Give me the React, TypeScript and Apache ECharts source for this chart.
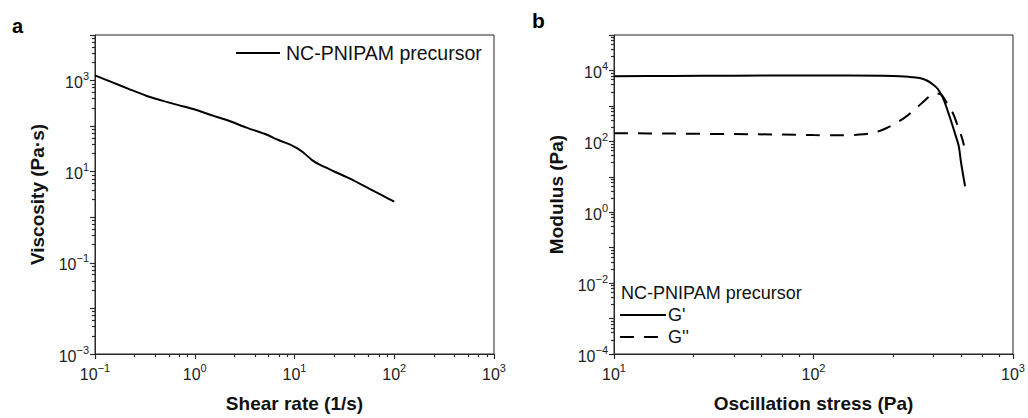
import React, { useEffect, useRef } from "react";
import * as echarts from "echarts";

// Panel a: viscosity vs shear rate
const shearRate = [0.1, 0.15, 0.22, 0.33, 0.5, 0.7, 1, 1.5, 2.2, 3.3, 5, 7, 9.6, 12, 15, 18.5, 25, 33, 45, 56, 75, 100];
const viscosity = [1300, 910, 650, 460, 350, 286, 232, 172, 131, 93, 68, 49, 37, 27.5, 18, 13.7, 10.1, 7.7, 5.5, 4.27, 3.06, 2.2];

// Panel b: moduli vs oscillation stress
const stressG1 = [10, 20, 40, 80, 150, 250, 300, 340, 370, 400, 420, 445, 480, 515, 535, 548, 575];
const gPrime = [6900, 7000, 7100, 7200, 7200, 7000, 6600, 6100, 5200, 3900, 3000, 1700, 520, 150, 72, 27, 5.4];
const stressG2 = [10, 20, 40, 70, 100, 140, 170, 200, 230, 260, 290, 330, 360, 390, 415, 440, 470, 500, 530, 555, 568];
const gDoublePrime = [170, 165, 160, 155, 150, 148, 155, 175, 230, 330, 490, 900, 1400, 2050, 2250, 2000, 1100, 620, 260, 125, 76];

const minorMantissas = [2.5, 4, 5.5, 7, 8.5];
const aXDecades = [-1, 0, 1, 2];
const aYDecades = [-3, -2, -1, 0, 1, 2, 3];
const bXDecades = [1, 2];
const bYDecades = [-4, -3, -2, -1, 0, 1, 2, 3, 4];

const FONT = "'Liberation Sans', Arial, sans-serif";
const AXIS_COLOR = "#2a2a2a";

function sup(v: number) {
  const e = Math.round(Math.log10(v));
  const s = e < 0 ? "\u2212" + Math.abs(e) : String(e);
  return `{b|10}{s|${s}}`;
}

const richLabel = {
  b: { fontSize: 16, fontFamily: FONT, color: "#222", lineHeight: 20, verticalAlign: "bottom" },
  s: { fontSize: 11, fontFamily: FONT, color: "#222", lineHeight: 20, verticalAlign: "top" },
};

function minorValues(decades: number[]) {
  const out: number[] = [];
  decades.forEach((d) => minorMantissas.forEach((m) => out.push(m * Math.pow(10, d))));
  return out;
}

function logAxis(gi: number, min: number, max: number, name: string, isY: boolean, labelFilter: (e: number) => boolean, nameGap: number) {
  return {
    type: "log",
    logBase: 10,
    gridIndex: gi,
    position: isY ? "left" : "bottom",
    min,
    max,
    name,
    nameLocation: "middle",
    nameGap,
    nameTextStyle: { fontFamily: FONT, fontWeight: "bold", fontSize: 19, color: "#111" },
    axisLine: { show: true, lineStyle: { color: AXIS_COLOR, width: 1 } },
    axisTick: { show: true, inside: false, length: 5, lineStyle: { color: AXIS_COLOR, width: 1.2 } },
    minorTick: { show: false },
    splitLine: { show: false },
    axisLabel: {
      margin: isY ? 6 : 8,
      formatter: (v: number) => (labelFilter(Math.round(Math.log10(v))) ? sup(v) : ""),
      rich: richLabel,
      showMinLabel: true,
      showMaxLabel: true,
    },
  };
}

// overlay axis that only carries the minor ticks
function minorAxis(gi: number, min: number, max: number, isY: boolean, decades: number[]) {
  return {
    type: "log",
    logBase: 10,
    gridIndex: gi,
    position: isY ? "left" : "bottom",
    offset: 0,
    min,
    max,
    silent: true,
    axisLine: { show: false },
    axisTick: { show: true, inside: false, length: 3, customValues: minorValues(decades), lineStyle: { color: AXIS_COLOR, width: 1.2 } },
    axisLabel: { show: false },
    splitLine: { show: false },
    minorTick: { show: false },
  };
}

export default function App() {
  const ref = useRef<HTMLDivElement>(null);
  useEffect(() => {
    if (!ref.current) return;
    const chart = echarts.init(ref.current, undefined, { renderer: "svg" });
    const option: any = {
      animation: false,
      backgroundColor: "#fff",
      grid: [
        { left: 95, top: 35, width: 399, height: 322, show: true, borderColor: "#222", borderWidth: 1, backgroundColor: "transparent" },
        { left: 614, top: 35, width: 399, height: 322, show: true, borderColor: "#222", borderWidth: 1, backgroundColor: "transparent" },
      ],
      xAxis: [
        logAxis(0, 0.1, 1000, "Shear rate (1/s)", false, () => true, 40),
        logAxis(1, 10, 1000, "Oscillation stress (Pa)", false, () => true, 40),
        minorAxis(0, 0.1, 1000, false, aXDecades),
        minorAxis(1, 10, 1000, false, bXDecades),
      ],
      yAxis: [
        logAxis(0, 0.001, 10000, "Viscosity (Pa\u00b7s)", true, (e) => Math.abs(e) % 2 === 1, 48),
        logAxis(1, 0.0001, 100000, "Modulus (Pa)", true, (e) => e % 2 === 0 && e < 5, 48),
        minorAxis(0, 0.001, 10000, true, aYDecades),
        minorAxis(1, 0.0001, 100000, true, bYDecades),
      ],
      series: [
        {
          type: "line",
          name: "NC-PNIPAM precursor",
          xAxisIndex: 0,
          yAxisIndex: 0,
          data: shearRate.map((x, i) => [x, viscosity[i]]),
          showSymbol: false,
          smooth: 0.2,
          lineStyle: { color: "#000", width: 2 },
        },
        {
          type: "line",
          name: "G'",
          xAxisIndex: 1,
          yAxisIndex: 1,
          data: stressG1.map((x, i) => [x, gPrime[i]]),
          showSymbol: false,
          smooth: 0.3,
          lineStyle: { color: "#000", width: 2 },
        },
        {
          type: "line",
          name: "G''",
          xAxisIndex: 1,
          yAxisIndex: 1,
          data: stressG2.map((x, i) => [x, gDoublePrime[i]]),
          showSymbol: false,
          smooth: 0.3,
          lineStyle: { color: "#000", width: 2, type: [14, 10] },
        },
      ],
      graphic: [
        { type: "text", left: 12, top: 16, style: { text: "a", font: `bold 20px ${FONT}`, fill: "#000" } },
        { type: "text", left: 532, top: 10, style: { text: "b", font: `bold 21px ${FONT}`, fill: "#000" } },
        { type: "line", shape: { x1: 236, y1: 53, x2: 280, y2: 53 }, style: { stroke: "#000", lineWidth: 2 } },
        { type: "text", x: 286, y: 53, style: { text: "NC-PNIPAM precursor", font: `19.5px ${FONT}`, fill: "#111", verticalAlign: "middle" } },
        { type: "text", x: 621, y: 293, style: { text: "NC-PNIPAM precursor", font: `18px ${FONT}`, fill: "#111", verticalAlign: "middle" } },
        { type: "line", shape: { x1: 620, y1: 315, x2: 666, y2: 315 }, style: { stroke: "#000", lineWidth: 2 } },
        { type: "text", x: 668, y: 315, style: { text: "G'", font: `18px ${FONT}`, fill: "#111", verticalAlign: "middle" } },
        { type: "line", shape: { x1: 620, y1: 337, x2: 666, y2: 337 }, style: { stroke: "#000", lineWidth: 2, lineDash: [14, 10] } },
        { type: "text", x: 668, y: 337, style: { text: "G''", font: `18px ${FONT}`, fill: "#111", verticalAlign: "middle" } },
      ],
    };
    chart.setOption(option);
    return () => chart.dispose();
  }, []);
  return <div ref={ref} style={{ position: "absolute", left: 0, top: 0, width: 1028, height: 418 }} />;
}
